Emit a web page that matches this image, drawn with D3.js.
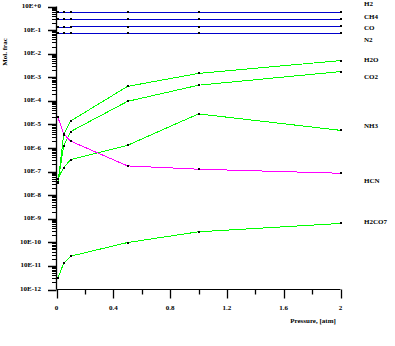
<!DOCTYPE html>
<html><head><meta charset="utf-8">
<script src="https://cdn.jsdelivr.net/npm/d3@7"></script>
<style>
html,body{margin:0;padding:0;background:#fff;}
text{font-family:"Liberation Serif","DejaVu Serif",serif;font-weight:bold;fill:#000;}
</style></head>
<body>
<svg id="chart" width="395" height="346"></svg>
<script>
// ---- data ----
const pressures = [0.01, 0.05, 0.1, 0.5, 1, 2];
const speciesNames = ["H2","CH4","CO","N2","H2O","CO2","NH3","HCN","H2CO7"];
const H2   = [0.575, 0.575, 0.575, 0.574, 0.573, 0.572];
const CH4  = [0.288, 0.288, 0.288, 0.289, 0.290, 0.291];
const CO   = [0.135, 0.135, 0.135, 0.136, 0.138, 0.145];
const N2   = [0.074, 0.074, 0.074, 0.074, 0.074, 0.074];
const H2O  = [3.2e-8, 3.5e-6, 1.4e-5, 4.1e-4, 1.45e-3, 5.1e-3];
const CO2  = [3.5e-8, 1.2e-6, 5.0e-6, 9.5e-5, 4.6e-4, 1.74e-3];
const NH3  = [5.0e-8, 1.48e-7, 3.2e-7, 1.3e-6, 2.8e-5, 5.6e-6];
const HCN  = [2.0e-5, 4.0e-6, 1.95e-6, 1.74e-7, 1.26e-7, 8.5e-8];
const H2CO = [3.0e-12, 1.3e-11, 2.6e-11, 9.8e-11, 2.8e-10, 6.3e-10];
const xTickValues = [0, 0.4, 0.8, 1.2, 1.6, 2];
const xTickLabels = ["0", "0.4", "0.8", "1.2", "1.6", "2"];
const yTickExponents = [0,-1,-2,-3,-4,-5,-6,-7,-8,-9,-10,-11,-12];
const yTickLabels = ["10E+0","10E-1","10E-2","10E-3","10E-4","10E-5","10E-6","10E-7","10E-8","10E-9","10E-10","10E-11","10E-12"];
const xTitle = "Pressure, [atm]";
const yTitle = "Mol. frac";

// ---- layout ----
const seriesValues = [H2, CH4, CO, N2, H2O, CO2, NH3, HCN, H2CO];
const seriesColors = ["#0000cc","#0000cc","#0000cc","#0000cc","#00ff00","#00ff00","#00ff00","#ff00ff","#00ff00"];
const labelPixelY = [4, 17, 28, 40, 60, 77, 126, 181, 222];

const svg = d3.select("#chart");
const x = d3.scaleLinear().domain([0, 2]).range([56.5, 340.5]);
const y = d3.scaleLog().domain([1e-12, 1]).range([289.5, 6.5]);

// X axis
const xAxisG = svg.append("g").attr("transform","translate(0,289.5)");
xAxisG.append("line").attr("x1", x(0)).attr("x2", x(2)).attr("stroke","#000");
const xMinor = d3.range(0, 2.0001, 0.2);
xAxisG.selectAll("line.t").data(xMinor).join("line").attr("class","t")
  .attr("x1", d=>Math.round(x(d))+0.5).attr("x2", d=>Math.round(x(d))+0.5)
  .attr("y1",0).attr("y2", (d,i)=> i%2===0 ? 9 : 5).attr("stroke","#000").attr("stroke-width",1.3);
xAxisG.selectAll("text").data(xTickValues).join("text")
  .attr("x", d=>x(d)).attr("y", 20).attr("text-anchor","middle")
  .style("font-size","7px").text((d,i)=>xTickLabels[i]);
svg.append("text").attr("x", 313).attr("y", 323).attr("text-anchor","middle")
  .style("font-size","7px").text(xTitle);

// Y axis
const yAxisG = svg.append("g");
yAxisG.append("line").attr("x1",56.5).attr("x2",56.5).attr("y1",y(1)).attr("y2",y(1e-12)).attr("stroke","#000").attr("stroke-width",1.3);
const minorTicks = [];
for (let e=-12; e<0; e++) for (let m=2; m<=9; m++) minorTicks.push(m*Math.pow(10,e));
yAxisG.selectAll("line.mn").data(minorTicks).join("line").attr("class","mn")
  .attr("x1",52).attr("x2",56.5).attr("y1",d=>Math.round(y(d))+0.5).attr("y2",d=>Math.round(y(d))+0.5)
  .attr("stroke","#000");
yAxisG.selectAll("line.mj").data(yTickExponents).join("line").attr("class","mj")
  .attr("x1",48).attr("x2",56.5).attr("y1",d=>Math.round(y(Math.pow(10,d)))+0.5).attr("y2",d=>Math.round(y(Math.pow(10,d)))+0.5)
  .attr("stroke","#000").attr("stroke-width",1.5);
yAxisG.selectAll("text").data(yTickExponents).join("text")
  .attr("x",41).attr("y",d=>y(Math.pow(10,d))+1.5).attr("text-anchor","end")
  .style("font-size","7px").text((d,i)=>yTickLabels[i]);
svg.append("text").attr("transform","translate(7,52) rotate(-90)").attr("text-anchor","middle")
  .style("font-size","7px").text(yTitle);

// Series
const line = d3.line().x((d,i)=>x(pressures[i])).y(d=>y(d));
const sg = svg.append("g");
seriesValues.forEach((vals, k) => {
  sg.append("path").attr("d", line(vals)).attr("fill","none")
    .attr("stroke", seriesColors[k]).attr("stroke-width",1).attr("shape-rendering","crispEdges");
  sg.selectAll(null).data(vals).join("rect")
    .attr("x",(d,i)=>Math.round(x(pressures[i]))-1).attr("y",d=>Math.round(y(d))-1)
    .attr("width",2).attr("height",2).attr("fill","#000");
  svg.append("text").attr("x",364).attr("y",labelPixelY[k]+2)
    .style("font-size","7px").text(speciesNames[k]);
});
</script>
</body></html>
